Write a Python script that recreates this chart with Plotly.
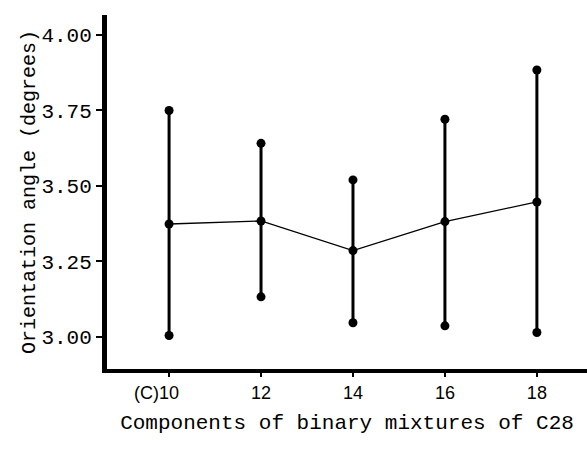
import plotly.graph_objects as go

components = [10, 12, 14, 16, 18]
mean_angle = [3.374, 3.384, 3.286, 3.382, 3.447]
low_angle = [3.005, 3.133, 3.047, 3.037, 3.015]
high_angle = [3.750, 3.641, 3.520, 3.721, 3.884]
y_ticks = [3.00, 3.25, 3.50, 3.75, 4.00]
y_tick_text = ["3.00", "3.25", "3.50", "3.75", "4.00"]
x_tick_text = ["10", "12", "14", "16", "18"]

fig = go.Figure()
for x, lo, hi in zip(components, low_angle, high_angle):
    fig.add_trace(go.Scatter(x=[x, x], y=[lo, hi], mode="lines+markers",
                             line=dict(color="black", width=3),
                             marker=dict(color="black", size=9),
                             showlegend=False, hoverinfo="skip"))
fig.add_trace(go.Scatter(x=components, y=mean_angle, mode="lines+markers",
                         line=dict(color="black", width=1.3),
                         marker=dict(color="black", size=9),
                         showlegend=False))

fig.add_annotation(x=components[0], y=0, xref="x", yref="paper", text="(C)",
                   showarrow=False, xanchor="right", yanchor="top",
                   xshift=-8, yshift=-12,
                   font=dict(family="Liberation Sans", size=18, color="black"))

fig.update_layout(
    width=587, height=449,
    margin=dict(l=107, r=0, t=15, b=80),
    paper_bgcolor="white", plot_bgcolor="white",
    xaxis=dict(range=[8.65, 19.09], tickvals=components, ticktext=x_tick_text,
               showgrid=False, zeroline=False, showline=True, linewidth=4,
               linecolor="black", ticks="outside", ticklen=4, tickwidth=1.5,
               tickcolor="black",
               tickfont=dict(family="Liberation Sans", size=18, color="black"),
               title=dict(text="Components of binary mixtures of C28",
                          font=dict(family="Liberation Mono", size=21, color="black"),
                          standoff=14)),
    yaxis=dict(range=[2.894, 4.066], tickvals=y_ticks, ticktext=y_tick_text,
               showgrid=False, zeroline=False, showline=True, linewidth=5,
               linecolor="black", ticks="outside", ticklen=6, tickwidth=1.5,
               tickcolor="black",
               tickfont=dict(family="Liberation Mono", size=21, color="black"),
               title=dict(text="Orientation angle (degrees)",
                          font=dict(family="Liberation Mono", size=20, color="black"),
                          standoff=0)),
)

fig.write_html("out.html", config={"displayModeBar": False},
               post_script="document.body.style.margin='0';")
